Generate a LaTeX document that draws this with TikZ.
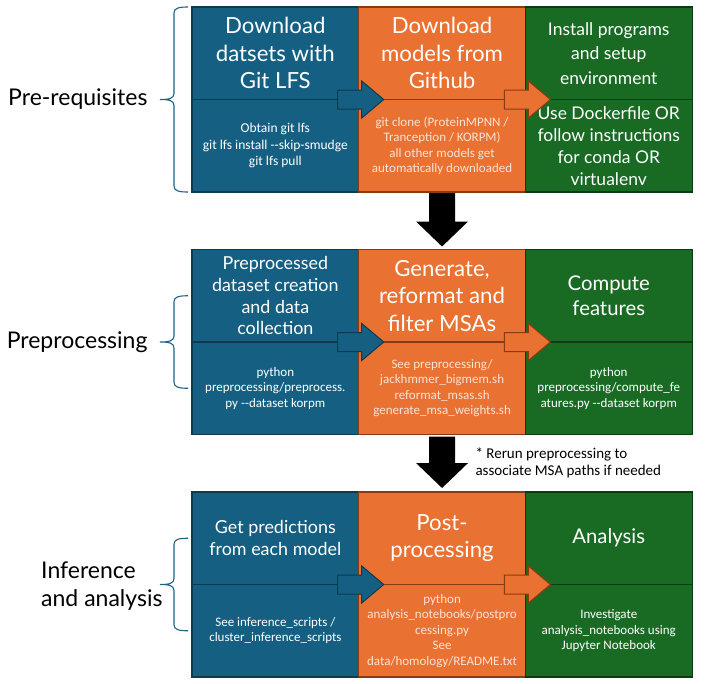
\documentclass[tikz,border=0pt]{standalone}
\usepackage{fontspec}
\setmainfont{Lato}
\newfontfamily\smallfont{Carlito}[Ligatures=TeXOff]
\usetikzlibrary{calc}
\usetikzlibrary{positioning}
\definecolor{blueA}{HTML}{156082}
\definecolor{blueD}{HTML}{0C3A50}
\definecolor{orangeA}{HTML}{E97132}
\definecolor{orangeD}{HTML}{8A3A12}
\definecolor{greenA}{HTML}{196B24}
\definecolor{greenD}{HTML}{0C3A12}
\definecolor{peach}{HTML}{FBE3D6}
\definecolor{braceC}{HTML}{1F6285}
\tikzset{
  every picture/.style={font={\fontsize{23}{28}\selectfont}},
  grpbrace/.style={draw=braceC, line width=1.1pt,
    to path={let \p1=(\tikztostart), \p2=(\tikztotarget), \n1={0.5*\y1+0.5*\y2} in
      (\x1,\y1) .. controls +(-9pt,0pt) and +(0pt,5pt) .. ({\x1-14pt},{\y1-6pt})
      -- ({\x1-14pt},{\n1+6pt}) .. controls +(0pt,-5pt) and +(9pt,0pt) .. ({\x1-28pt},\n1)
      .. controls +(9pt,0pt) and +(0pt,5pt) .. ({\x1-14pt},{\n1-6pt})
      -- ({\x1-14pt},{\y2+6pt}) .. controls +(0pt,-5pt) and +(-9pt,0pt) .. (\x1,\y2)}},
  blockarrow/.style n args={3}{
    to path={let \p1=(\tikztostart), \p2=(\tikztotarget), \p3=($(\p2)!#3!(\p1)$) in
      ($(\p1)!#1!90:(\p2)$) -- ($(\p3)!#1!90:(\p2)$) -- ($(\p3)!#2!90:(\p2)$) -- (\p2)
      -- ($(\p3)!#2!-90:(\p2)$) -- ($(\p3)!#1!-90:(\p2)$) -- ($(\p1)!#1!-90:(\p2)$) -- cycle}}}

\begin{document}
\begin{tikzpicture}[x=1pt, y=-1pt, node distance=0pt,
    cell/.style={draw, line width=1.1pt, minimum width=166.7pt, minimum height=92.5pt,
      align=center, text=white, inner sep=2pt, outer sep=0pt},
    bluecell/.style={cell, fill=blueA, draw=blueD},
    orangecell/.style={cell, fill=orangeA, draw=orangeD},
    greencell/.style={cell, fill=greenA, draw=greenD},
    headL/.style={font={\fontsize{22.2}{27.5}\selectfont}},
    headM/.style={font={\fontsize{20.3}{25}\selectfont}},
    headE/.style={font={\fontsize{17.5}{24.5}\selectfont}},
    headS/.style={font={\fontsize{17.9}{21.7}\selectfont}},
    txt/.style={font={\smallfont\fontsize{13}{15.5}\selectfont}},
    sideblue/.style={blockarrow={9.5pt}{18.5pt}{22pt}, fill=blueA, draw=blueD, line width=1pt},
    sideorange/.style={blockarrow={9.5pt}{18.5pt}{22pt}, fill=orangeA, draw=orangeD, line width=1pt},
    bigarrow/.style={blockarrow={13pt}{26pt}{25pt}, fill=black}]

    \useasboundingbox (0,0) rectangle (706,683);

    % pre-requisites
    \begin{scope}
      \node[bluecell, headL] (DT) at (275.35,53.25) {Download\\datsets with\\Git LFS};
      \node[bluecell, txt, font={\smallfont\fontsize{13.5}{16.5}\selectfont}] (DB) [below=of DT]
        {Obtain git lfs\\git lfs install --skip-smudge\\git lfs pull};
      \node[orangecell, headL] (MT) [right=of DT] {Download\\models from\\Github};
      \node[orangecell, txt, text=peach] (MB) [below=of MT]
        {git clone (ProteinMPNN /\\Tranception / KORPM)\\all other models get\\automatically downloaded};
      \node[greencell, headE] (ET) [right=of MT] {Install programs\\and setup\\environment};
      \node[greencell, headE, font={\fontsize{17.5}{22}\selectfont}] (EB) [below=of ET]
        {Use Dockerfile OR\\follow instructions\\for conda OR\\virtualenv};
    \end{scope}

    % preprocessing
    \begin{scope}
      \node[bluecell, headS] (PT) at (275.35,295.75) {Preprocessed\\dataset creation\\and data\\collection};
      \node[bluecell, txt] (PB) [below=of PT] {python\\preprocessing/preprocess.\\py --dataset korpm};
      \node[orangecell, headL] (GT) [right=of PT] {Generate,\\reformat and\\filter MSAs};
      \node[orangecell, txt, text=peach] (GB) [below=of GT]
        {See preprocessing/\\jackhmmer\_bigmem.sh\\reformat\_msas.sh\\generate\_msa\_weights.sh};
      \node[greencell, headM] (CT) [right=of GT] {Compute\\features};
      \node[greencell, txt] (CB) [below=of CT] {python\\preprocessing/compute\_fe\\atures.py --dataset korpm};
    \end{scope}

    % inference and analysis
    \begin{scope}
      \node[bluecell, headS] (IT) at (275.35,538.25) {Get predictions\\from each model};
      \node[bluecell, txt] (IB) [below=of IT] {See inference\_scripts /\\cluster\_inference\_scripts};
      \node[orangecell, headL] (ST) [right=of IT] {Post-\\processing};
      \node[orangecell, txt, text=peach] (SB) [below=of ST]
        {python\\analysis\_notebooks/postpro\\cessing.py\\See\\data/homology/README.txt};
      \node[greencell, headM] (NT) [right=of ST] {Analysis};
      \node[greencell, txt] (NB) [below=of NT] {Investigate\\analysis\_notebooks using\\Jupyter Notebook};
    \end{scope}

    % arrows inside each row
    \draw[sideblue] ([xshift=-21pt]DT.south east) to ([xshift=25pt]DT.south east);
    \draw[sideorange] ([xshift=-21pt]MT.south east) to ([xshift=25pt]MT.south east);
    \draw[sideblue] ([xshift=-21pt]PT.south east) to ([xshift=25pt]PT.south east);
    \draw[sideorange] ([xshift=-21pt]GT.south east) to ([xshift=25pt]GT.south east);
    \draw[sideblue] ([xshift=-21pt]IT.south east) to ([xshift=25pt]IT.south east);
    \draw[sideorange] ([xshift=-21pt]ST.south east) to ([xshift=25pt]ST.south east);

    % arrows between rows
    \fill[bigarrow] ([yshift=-1pt]MB.south) to ([yshift=3pt]GT.north);
    \fill[bigarrow] ([yshift=-2pt]GB.south) to ([yshift=4pt]ST.north);
    \node[txt, text=black, font={\smallfont\fontsize{15}{17}\selectfont}, align=left, anchor=west] (NO)
      at (472,462.5) {* Rerun preprocessing to\\associate MSA paths if needed};

    % braces and row labels
    \draw[grpbrace] ([xshift=-4pt]DT.north west) to ([xshift=-4pt]DB.south west);
    \draw[grpbrace] ([xshift=-4pt]PT.west) to ([xshift=-4pt]PB.west);
    \draw[grpbrace] ([xshift=-4pt]IT.west) to ([xshift=-4pt]IB.west);

    \node (LA) [left=41pt of DT.south west] {Pre-requisites};
    \node (LB) [left=41pt of PT.south west] {Preprocessing};
    \node (LC) [left=26pt of IT.south west, yshift=-2pt, align=left] {Inference\\and analysis};
  \end{tikzpicture}
\end{document}
